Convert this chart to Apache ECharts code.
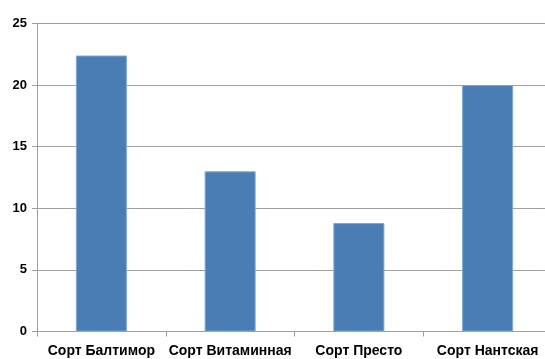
<!DOCTYPE html>
<html>
<head>
<meta charset="utf-8">
<script src="https://cdn.jsdelivr.net/npm/echarts@6/dist/echarts.min.js"></script>
<style>html,body{margin:0;padding:0;background:#fff;}#c{width:545px;height:359px;}</style>
</head>
<body>
<div id="c"></div>
<script>
const categories = ['Сорт Балтимор', 'Сорт Витаминная', 'Сорт Престо', 'Сорт Нантская'];
const values = [22.4, 13, 8.8, 20];
const yTicks = [0, 5, 10, 15, 20, 25];

const chart = echarts.init(document.getElementById('c'), null, {renderer: 'canvas'});
chart.setOption({
  animation: false,
  backgroundColor: '#ffffff',
  grid: {left: 37, top: 23.5, width: 515, height: 308, containLabel: false, outerBoundsMode: 'none'},
  xAxis: {
    type: 'category',
    data: categories,
    axisLine: {show: true, lineStyle: {color: '#a0a0a0', width: 1}},
    axisTick: {show: true, length: 5, alignWithLabel: false, lineStyle: {color: '#a0a0a0'}},
    axisLabel: {
      margin: 13, color: '#000', fontFamily: 'Liberation Sans, Arial, sans-serif',
      fontWeight: 'bold', fontSize: 14, interval: 0
    },
    splitLine: {show: false}
  },
  yAxis: {
    type: 'value',
    min: yTicks[0], max: yTicks[yTicks.length - 1], interval: 5,
    axisLine: {show: true, lineStyle: {color: '#a0a0a0', width: 1}},
    axisTick: {show: true, length: 5, lineStyle: {color: '#a0a0a0'}},
    axisLabel: {
      margin: 10, color: '#000', fontFamily: 'Liberation Sans, Arial, sans-serif',
      fontWeight: 'bold', fontSize: 13
    },
    splitLine: {show: true, lineStyle: {color: '#a0a0a0', width: 1}}
  },
  series: [{
    type: 'bar',
    data: values,
    barWidth: 51,
    itemStyle: {color: '#4a7db4', borderColor: '#7ea7d3', borderWidth: 1}
  }]
});
</script>
</body>
</html>
